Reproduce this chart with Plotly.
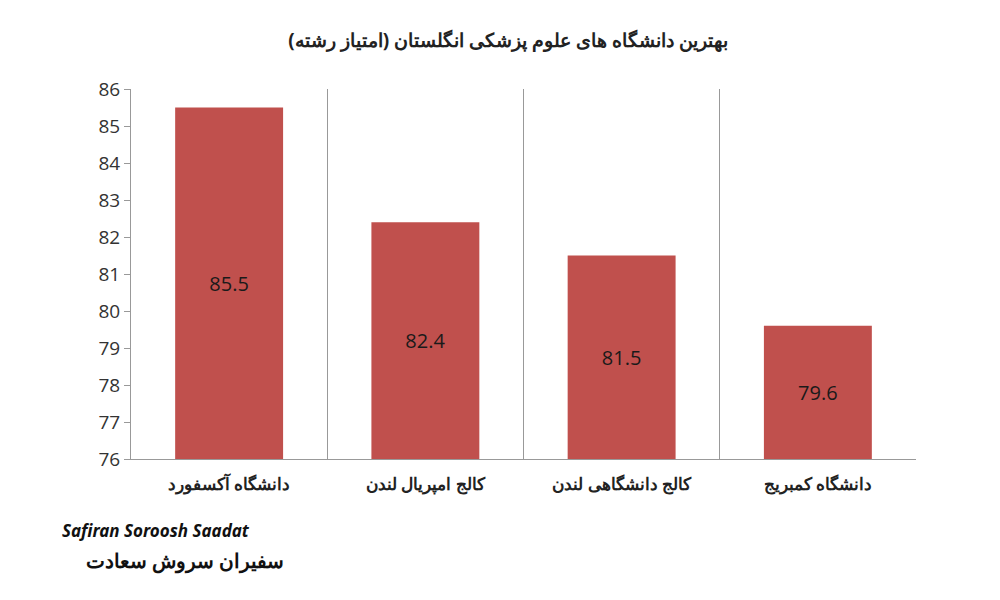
import plotly.graph_objects as go

universities = ['دانشگاه آکسفورد', 'کالج امپریال لندن', 'کالج دانشگاهی لندن', 'دانشگاه کمبریج']
scores = [85.5, 82.4, 81.5, 79.6]
positions = list(range(len(universities)))
baseline = 76

fig = go.Figure()
fig.add_trace(go.Bar(
    x=positions, y=[v - baseline for v in scores], base=baseline, width=0.55,
    marker=dict(color='#c0504d', line=dict(width=0)),
    text=[f'{v}' for v in scores], textposition='inside', insidetextanchor='middle',
    textfont=dict(size=20, color='#1a1a1a', family='Open Sans'),
))

fig.update_layout(
    width=1000, height=600,
    paper_bgcolor='white', plot_bgcolor='white',
    margin=dict(l=123, r=92, t=81, b=149),
    showlegend=False,
    title=dict(text='<b>بهترین دانشگاه های علوم پزشکی انگلستان (امتیاز رشته)</b>',
               x=0.5, xanchor='center', y=0.957,
               font=dict(size=19, color='#222', family='Noto Sans')),
    font=dict(family='Noto Sans', color='#222'),
)
fig.update_xaxes(
    range=[-0.5, 3.5], tickvals=positions, ticktext=[f'<b>{u}</b>' for u in universities],
    tickfont=dict(size=17), showgrid=False, zeroline=False,
    showline=True, linecolor='#999', ticks='outside', ticklen=10, tickcolor='rgba(0,0,0,0)',
    minor=dict(tickvals=[-0.5, 0.5, 1.5, 2.5, 3.5], showgrid=True, gridcolor='#999', gridwidth=1),
)
fig.update_yaxes(
    range=[76, 86], dtick=1, showgrid=False, zeroline=False,
    showline=True, linecolor='#999', ticks='outside', ticklen=6, tickcolor='#999',
    tickfont=dict(size=19, family='Open Sans', color='#333'),
)
fig.add_annotation(text='<b><i>Safiran Soroosh Saadat</i></b>', xref='paper', yref='paper',
                   x=-0.09, y=-0.23, xanchor='left', showarrow=False,
                   font=dict(size=17, color='#111'))
fig.add_annotation(text='<b>سفیران سروش سعادت</b>', xref='paper', yref='paper',
                   x=-0.06, y=-0.315, xanchor='left', showarrow=False,
                   font=dict(size=20, color='#111'))
fig.write_html('out.html')
